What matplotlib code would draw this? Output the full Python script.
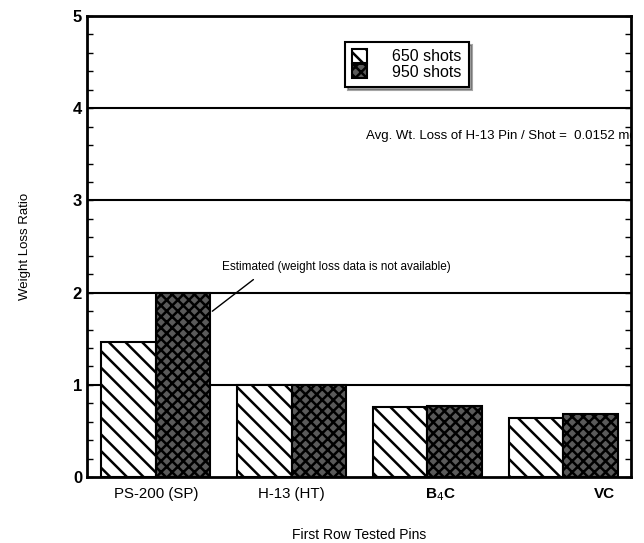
import matplotlib
matplotlib.use("Agg")
import matplotlib.pyplot as plt
import numpy as np
from matplotlib.ticker import MultipleLocator

plt.rcParams['font.family'] = ['Liberation Sans', 'DejaVu Sans']
plt.rcParams['hatch.linewidth'] = 1.8

pins = ['PS-200 (SP)', 'H-13 (HT)', 'B$_4$C', 'VC']
shots_650 = [1.46, 1.0, 0.76, 0.64]
shots_950 = [2.0, 1.0, 0.77, 0.68]
label_pos = [0, 1, 2.1, 3.3]

x = np.arange(len(pins))
w = 0.4

fig = plt.figure(figsize=(6.44, 5.43), dpi=100)
ax = fig.add_axes([0.135, 0.1215, 0.845, 0.849])

for yy in [1, 2, 3, 4]:
    ax.axhline(yy, color='black', lw=1.5, zorder=1)

b1 = ax.bar(x - w / 2, shots_650, w, color='white', edgecolor='black',
            hatch='\\\\', lw=1.5, zorder=2, label='650 shots')
b2 = ax.bar(x + w / 2, shots_950, w, color='#5a5a5a', edgecolor='black',
            hatch='xxx', lw=1.5, zorder=2, label='950 shots')

ax.set_xlim(-0.507, 3.5)
ax.set_ylim(0, 5)

ax.yaxis.set_major_locator(MultipleLocator(1))
ax.yaxis.set_minor_locator(MultipleLocator(0.2))
ax.tick_params(axis='y', which='both', direction='in', length=4, width=1,
               left=True, right=True)
ax.tick_params(axis='x', length=0, pad=7)
ax.set_yticks([0, 1, 2, 3, 4, 5])
ax.set_yticklabels(['0', '1', '2', '3', '4', '5'], fontsize=12, fontweight='bold')
ax.set_xticks(label_pos)
ax.set_xticklabels(pins, fontsize=10.8)
for t in ax.get_xticklabels()[2:]:
    t.set_fontweight('bold')
    t.set_fontsize(11)

for s in ax.spines.values():
    s.set_linewidth(2)

ax.set_ylabel('Weight Loss Ratio', fontsize=9.5, labelpad=30)
ax.set_xlabel('First Row Tested Pins', fontsize=10, labelpad=18)

leg = ax.legend(loc='center', bbox_to_anchor=(0.588, 0.895), fontsize=11.5,
                frameon=True, fancybox=False, shadow=True, edgecolor='black',
                handlelength=0.9, handleheight=0.9, handletextpad=1.6,
                labelspacing=0.0, borderpad=0.45, borderaxespad=0)
leg.get_frame().set_linewidth(1.5)

ax.text(1.55, 3.7, 'Avg. Wt. Loss of H-13 Pin / Shot =  0.0152 mg',
        fontsize=9.5, ha='left', va='center', clip_on=True)

ax.annotate('', xy=(0.40, 1.78), xytext=(0.735, 2.16),
            arrowprops=dict(arrowstyle='-', color='black', lw=1))
ax.text(0.49, 2.28, 'Estimated (weight loss data is not available)',
        fontsize=8.5, ha='left', va='center')

fig.savefig('out.png', dpi=100)
